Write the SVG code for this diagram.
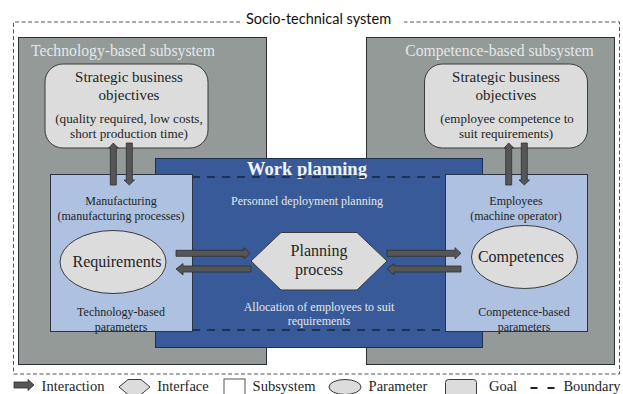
<svg xmlns="http://www.w3.org/2000/svg" width="623" height="394" viewBox="0 0 623 394">
<style>
text{font-family:"Liberation Serif","Times New Roman",serif;text-anchor:middle;fill:#1c1f26}
.w{fill:#e4e8ea}
.sub{fill:#939a98;stroke:#2a2f33;stroke-width:1}
.req{fill:#aec1e0;stroke:#2b3442;stroke-width:1}
.goal{fill:#dcdcdc;stroke:#3a3a3a;stroke-width:1}
.bd{fill:none;stroke:#14233f;stroke-width:1.4;stroke-dasharray:8 7}
.arr{fill:#565656;stroke:#2f2f2f;stroke-width:.8}
.t16{font-size:15.700px}.t12{font-size:12px}.t15{font-size:15px}.lg{font-size:14.500px}.nd{font-size:16px}
</style>
<g id="system-boundary">
<path d="M240,22 H13.500 V374 H619.500 V22 H404" fill="none" stroke="#555" stroke-width="1" stroke-dasharray="4 2.500"/>
<text x="318.500" y="24" style="font-family:Lato,'Open Sans',sans-serif;font-size:14.500px;fill:#111">Socio-technical system</text>
</g>
<g id="technology-subsystem">
<rect class="sub" x="18.500" y="37.500" width="248" height="327"/>
<text class="w t16" x="123" y="56">Technology-based subsystem</text>
</g>
<g id="competence-subsystem">
<rect class="sub" x="366.500" y="37.500" width="248" height="327"/>
<text class="w t16" x="499.500" y="56">Competence-based subsystem</text>
</g>
<g id="work-planning">
<rect x="155.500" y="158.500" width="327" height="189" fill="#385a98" stroke="#1c2f55" stroke-width="1"/>
<text x="307" y="175" style="font-size:18.500px;font-weight:bold;fill:#f2f4f8">Work planning</text>
<path class="bd" d="M192,177 H445"/>
<path class="bd" d="M192,330 H445"/>
<text class="w t12" x="307" y="205">Personnel deployment planning</text>
<text class="w t12" x="319" y="311">Allocation of employees to suit</text>
<text class="w t12" x="319" y="325">requirements</text>
</g>
<g id="goal-technology">
<rect class="goal" x="45" y="64" width="163" height="84" rx="18"/>
<text class="t15" x="129" y="82">Strategic business</text>
<text class="t15" x="129" y="100">objectives</text>
<text x="129" y="123" style="font-size:13.200px">(quality required, low costs,</text>
<text x="129" y="138" style="font-size:13.200px">short production time)</text>
</g>
<g id="goal-competence">
<rect class="goal" x="424.500" y="64" width="163" height="84" rx="18"/>
<text class="t15" x="506" y="82">Strategic business</text>
<text class="t15" x="506" y="100">objectives</text>
<text x="507" y="123" style="font-size:13px">(employee competence to</text>
<text x="506" y="138" style="font-size:13px">suit requirements)</text>
</g>
<g id="manufacturing">
<rect class="req" x="50.500" y="174.500" width="142" height="157"/>
<text class="t12" x="121" y="205">Manufacturing</text>
<text class="t12" x="121" y="220">(manufacturing processes)</text>
<text class="t12" x="121" y="316">Technology-based</text>
<text class="t12" x="121" y="331">parameters</text>
</g>
<g id="employees">
<rect class="req" x="445.500" y="174.500" width="142" height="157"/>
<text class="t12" x="516" y="205">Employees</text>
<text class="t12" x="516" y="220">(machine operator)</text>
<text class="t12" x="524" y="316">Competence-based</text>
<text class="t12" x="524" y="331">parameters</text>
</g>
<g id="requirements">
<ellipse class="goal" cx="113" cy="262" rx="53" ry="31.500"/>
<text class="nd" x="117" y="267">Requirements</text>
</g>
<g id="competences">
<ellipse class="goal" cx="524.500" cy="257" rx="53" ry="31.500"/>
<text class="nd" x="521" y="262">Competences</text>
</g>
<g id="planning-process">
<polygon class="goal" points="251,261 281,232.500 357,232.500 387,261 357,290 281,290"/>
<text class="nd" x="319" y="256">Planning</text>
<text class="nd" x="319" y="275">process</text>
</g>
<g id="connectors">
<path class="arr" d="M110.300,185 V148 H108.800 L113.300,143 L118.300,148 H116.300 V185 Z"/>
<path class="arr" d="M126.300,143 V180 H124 L129.300,185 L134.500,180 H132.300 V143 Z"/>
<path class="arr" d="M505.700,185 V148 H504.200 L508.700,143 L513.700,148 H511.700 V185 Z"/>
<path class="arr" d="M521.300,143 V180 H519 L524.300,185 L529.500,180 H527.300 V143 Z"/>
<path class="arr" d="M176,250.300 H244 V247.700 L250,253.300 L244,259 V256.300 H176 Z"/>
<path class="arr" d="M251,266 H183 V263.500 L176,269 L183,275 V272 H251 Z"/>
<path class="arr" d="M387,250.300 H455 V247.700 L461,253.300 L455,259 V256.300 H387 Z"/>
<path class="arr" d="M461,266 H394 V263.500 L387,269 L394,275 V272 H461 Z"/>
</g>
<g id="legend">
<path class="arr" d="M14,382 H28 V379.500 L34,385 L28,390.500 V388 H14 Z"/>
<text class="lg" x="73" y="390.500">Interaction</text>
<polygon class="goal" points="119,387 128,379.500 141,379.500 150,387 141,394.500 128,394.500"/>
<text class="lg" x="183" y="390.500">Interface</text>
<rect x="224" y="379" width="21" height="18" fill="#fff" stroke="#555" stroke-width="1"/>
<text class="lg" x="284" y="390.500">Subsystem</text>
<ellipse class="goal" cx="345" cy="387" rx="16" ry="7.500"/>
<text class="lg" x="398" y="390.500">Parameter</text>
<rect class="goal" x="445.500" y="379.500" width="31" height="18" rx="3"/>
<text class="lg" x="503" y="390.500">Goal</text>
<path class="bd" d="M530.500,388 H555" style="stroke-dasharray:7 10;stroke-width:1.800"/>
<text class="lg" x="592" y="390.500">Boundary</text>
</g>
</svg>
